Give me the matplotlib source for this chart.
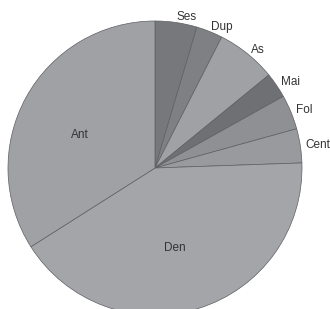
import matplotlib
matplotlib.use('Agg')
import matplotlib.pyplot as plt
import numpy as np

plt.rcParams['font.family'] = ['Liberation Sans', 'DejaVu Sans']

# Slice shares (percent), clockwise from 12 o'clock
labels = ['Ses', 'Dup', 'As', 'Mai', 'Fol', 'Cent', 'Den', 'Ant']
shares = [4.6, 2.9, 6.6, 2.8, 3.8, 3.75, 41.55, 34.0]
colors = ['#77787c', '#7f8084', '#a0a1a5', '#6f7074',
          '#8f9094', '#999a9e', '#a4a5a9', '#a0a1a5']
inside = {'Den': -3, 'Ant': 5}   # label angle nudge (deg)

fig = plt.figure(figsize=(3.30, 3.09), dpi=100)
ax = fig.add_axes([0, 0, 1, 1])

wedges, texts = ax.pie(shares, labels=labels, colors=colors, startangle=90,
                       counterclock=False, radius=1.0, labeldistance=1.035,
                       wedgeprops=dict(edgecolor='#5e5f63', linewidth=0.5),
                       textprops=dict(fontsize=8.5, color='#333333'))

# big slices get their labels inside
for w, t in zip(wedges, texts):
    name = t.get_text()
    if name in inside:
        ang = np.deg2rad((w.theta1 + w.theta2) / 2 + inside[name])
        t.set_position((0.56 * np.cos(ang), 0.56 * np.sin(ang)))
        t.set_ha('center')
        t.set_va('center')

ax.set_xlim(-155 / 147, 175 / 147)
ax.set_ylim(-141 / 147, 168 / 147)
ax.set_aspect('auto')
ax.axis('off')

fig.savefig('out.png', dpi=100)
